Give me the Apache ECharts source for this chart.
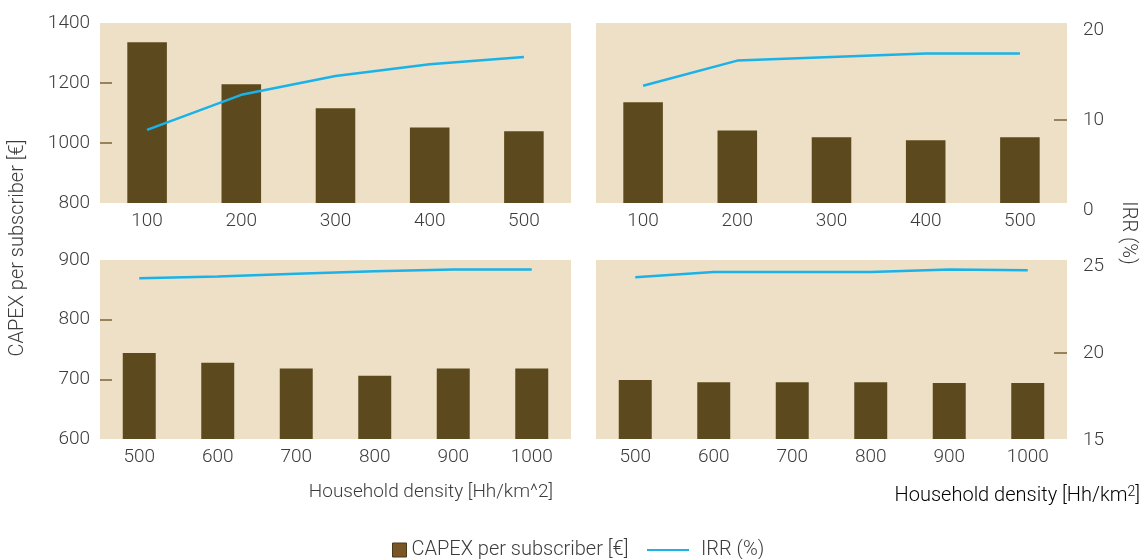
<!DOCTYPE html>
<html>
<head>
<meta charset="utf-8">
<style>
  html, body { margin: 0; padding: 0; background: #ffffff; }
  #chart { width: 1141px; height: 559px; }
</style>
<script src="https://cdn.jsdelivr.net/npm/echarts@6/dist/echarts.min.js"></script>
</head>
<body>
<div id="chart"></div>
<script>
// Household density categories (Hh/km²)
const densityLow = ['100', '200', '300', '400', '500'];
const densityHigh = ['500', '600', '700', '800', '900', '1000'];

// CAPEX per subscriber [€]
const capexTopLeft = [1336, 1196, 1116, 1052, 1039];
const capexTopRight = [1136, 1042, 1019, 1009, 1019];
const capexBottomLeft = [744, 728, 718, 706, 718, 718];
const capexBottomRight = [699, 695, 695, 695, 694, 694];

// IRR (%)
const irrTopLeft = [8.9, 12.8, 14.9, 16.2, 17.0];
const irrTopRight = [13.8, 16.6, 17.0, 17.4, 17.4];
const irrBottomLeft = [24.3, 24.4, 24.55, 24.7, 24.8, 24.8];
const irrBottomRight = [24.35, 24.65, 24.65, 24.65, 24.8, 24.75];

// Axis tick labels
const capexTicksTop = [800, 1000, 1200, 1400];
const capexTicksBottom = [600, 700, 800, 900];
const irrTicksTop = [0, 10, 20];
const irrTicksBottom = [15, 20, 25];

const FONT = 'Roboto';
const TEXT = '#3c3c3c';
const PANEL = '#ede0c6';
const BAR = '#5c4a1e';
const LINE = '#1ab2e8';
const TICK = '#7a6438';
const CAPEX_NAME = 'CAPEX per subscriber [€]';
const IRR_NAME = 'IRR (%)';

const chart = echarts.init(document.getElementById('chart'), null, { renderer: 'canvas' });

const panelGrid = (left, top, width, height) => ({
  left, top, width, height, show: true, backgroundColor: PANEL, borderWidth: 0, containLabel: false
});
const lineGrid = (left, top, width, height) => ({ left, top, width, height, show: false });

const catAxis = (gridIndex, data, show) => ({
  type: 'category', gridIndex, data, show,
  boundaryGap: true,
  axisLine: { show: false }, axisTick: { show: false },
  axisLabel: { fontFamily: FONT, fontWeight: 300, fontSize: 19, color: TEXT, margin: 9 }
});

const valAxis = (gridIndex, min, max, interval, opts) => Object.assign({
  type: 'value', gridIndex, min, max, interval,
  splitLine: { show: false },
  axisLine: { show: false }
}, opts);

const plain = (v) => String(v);

const leftLabels = (labels, ticks) => ({
  show: true, position: 'left',
  axisLabel: { fontFamily: FONT, fontWeight: 300, fontSize: 19, color: TEXT, margin: 10, customValues: labels, formatter: plain },
  axisTick: { show: true, inside: true, length: 12, lineStyle: { color: TICK, width: 1.5 }, customValues: ticks }
});
const rightLabels = (labels, ticks) => ({
  show: true, position: 'right',
  axisLabel: { fontFamily: FONT, fontWeight: 300, fontSize: 19, color: TEXT, margin: 16, customValues: labels, formatter: plain },
  axisTick: { show: true, inside: true, length: 13, lineStyle: { color: TICK, width: 1.5 }, customValues: ticks }
});

const barSeries = (i, data) => ({
  name: CAPEX_NAME, type: 'bar', xAxisIndex: i, yAxisIndex: i, data,
  barWidth: '42%', itemStyle: { color: BAR }, silent: true
});
const lineSeries = (i, data) => ({
  name: IRR_NAME, type: 'line', xAxisIndex: i, yAxisIndex: i, data,
  symbol: 'none', lineStyle: { color: LINE, width: 2.5 }, itemStyle: { color: LINE }, silent: true
});

const legendText = { fontFamily: FONT, fontWeight: 300, fontSize: 20, color: TEXT };

const option = {
  animation: false,
  backgroundColor: '#ffffff',
  textStyle: { fontFamily: FONT },
  grid: [
    panelGrid(100, 23, 471, 180),   // 0 top-left panel
    panelGrid(596, 23, 471, 180),   // 1 top-right panel
    panelGrid(100, 260, 471, 179),  // 2 bottom-left panel
    panelGrid(596, 260, 471, 179),  // 3 bottom-right panel
    lineGrid(100, 30, 471, 180),    // 4 IRR top-left
    lineGrid(596, 30, 471, 180),    // 5 IRR top-right
    lineGrid(100, 266, 471, 174),   // 6 IRR bottom-left
    lineGrid(596, 266, 471, 174)    // 7 IRR bottom-right
  ],
  xAxis: [
    catAxis(0, densityLow, true),
    catAxis(1, densityLow, true),
    catAxis(2, densityHigh, true),
    catAxis(3, densityHigh, true),
    catAxis(4, densityLow, false),
    catAxis(5, densityLow, false),
    catAxis(6, densityHigh, false),
    catAxis(7, densityHigh, false)
  ],
  yAxis: [
    valAxis(0, 800, 1400, 200, leftLabels(capexTicksTop, [1000, 1200])),
    valAxis(1, 800, 1400, 200, { show: false }),
    valAxis(2, 600, 900, 100, leftLabels(capexTicksBottom, [700, 800])),
    valAxis(3, 600, 900, 100, { show: false }),
    valAxis(4, 0, 20, 10, { show: false }),
    valAxis(5, 0, 20, 10, rightLabels(irrTicksTop, [10])),
    valAxis(6, 15, 25, 5, { show: false }),
    valAxis(7, 15, 25, 5, rightLabels(irrTicksBottom, [20]))
  ],
  series: [
    barSeries(0, capexTopLeft),
    barSeries(1, capexTopRight),
    barSeries(2, capexBottomLeft),
    barSeries(3, capexBottomRight),
    lineSeries(4, irrTopLeft),
    lineSeries(5, irrTopRight),
    lineSeries(6, irrBottomLeft),
    lineSeries(7, irrBottomRight)
  ],
  legend: [
    {
      data: [{ name: CAPEX_NAME, icon: 'rect', itemStyle: { color: '#7a5526', borderColor: '#4a3818', borderWidth: 1 } }],
      left: 392, top: 540, padding: 0, itemWidth: 14, itemHeight: 14, selectedMode: false,
      textStyle: legendText
    },
    {
      data: [{ name: IRR_NAME, icon: 'rect', itemStyle: { color: LINE } }],
      left: 647, top: 540, padding: 0, itemWidth: 42, itemHeight: 2, selectedMode: false,
      textStyle: Object.assign({ padding: [0, 0, 0, 7] }, legendText)
    }
  ],
  graphic: [
    {
      type: 'text', x: 18, y: 248, rotation: Math.PI / 2, silent: true,
      style: { text: 'CAPEX per subscriber [€]', fontFamily: FONT, fontWeight: 300, fontSize: 20, fill: TEXT, align: 'center', verticalAlign: 'middle' }
    },
    {
      type: 'text', x: 1128, y: 233, rotation: -Math.PI / 2, silent: true,
      style: { text: 'IRR (%)', fontFamily: FONT, fontWeight: 300, fontSize: 20, fill: TEXT, align: 'center', verticalAlign: 'middle' }
    },
    {
      type: 'text', x: 553, y: 492, silent: true,
      style: { text: 'Household density [Hh/km^2]', fontFamily: FONT, fontWeight: 300, fontSize: 19, fill: TEXT, align: 'right', verticalAlign: 'middle' }
    },
    {
      type: 'text', x: 1140, y: 496, silent: true,
      style: {
        text: '{a|Household density [Hh/km}{s|2}{a|]}',
        align: 'right', verticalAlign: 'middle',
        rich: {
          a: { fontFamily: FONT, fontWeight: 300, fontSize: 20, color: TEXT, lineHeight: 22 },
          s: { fontFamily: FONT, fontWeight: 300, fontSize: 14, color: TEXT, lineHeight: 22, verticalAlign: 'top', padding: [0, 0, 8, 0] }
        }
      }
    }
  ]
};

chart.setOption(option);
</script>
</body>
</html>
